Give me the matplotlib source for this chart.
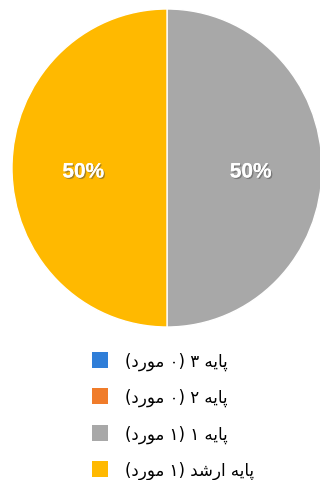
import matplotlib
matplotlib.use('Agg')
import matplotlib.pyplot as plt
import matplotlib.patheffects as pe

labels = ['پایه ۳ (۰ مورد)', 'پایه ۲ (۰ مورد)', 'پایه ۱ (۱ مورد)', 'پایه ارشد (۱ مورد)']
counts = [0, 0, 1, 1]
colors = ['#2F7ED8', '#F07C2A', '#A8A8A8', '#FFB900']

# matplotlib has no arabic shaping, so do it by hand (iso, fin, init, med)
DUAL = {'پ': '\uFB56\uFB57\uFB58\uFB59', 'ی': '\uFBFC\uFBFD\uFBFE\uFBFF',
        'ه': '\uFEE9\uFEEA\uFEEB\uFEEC', 'م': '\uFEE1\uFEE2\uFEE3\uFEE4',
        'ش': '\uFEB5\uFEB6\uFEB7\uFEB8'}
RIGHT = {'ا': '\uFE8D\uFE8E', 'و': '\uFEED\uFEEE', 'ر': '\uFEAD\uFEAE',
         'د': '\uFEA9\uFEAA'}


def shape_word(w):
	out = []
	for i, c in enumerate(w):
		if c not in DUAL and c not in RIGHT:
			out.append(c)
			continue
		prev = i > 0 and w[i-1] in DUAL
		nxt = c in DUAL and i+1 < len(w) and (w[i+1] in DUAL or w[i+1] in RIGHT)
		if c in RIGHT:
			out.append(RIGHT[c][1 if prev else 0])
		else:
			idx = 3 if (prev and nxt) else 1 if prev else 2 if nxt else 0
			out.append(DUAL[c][idx])
	return ''.join(out)


def visual(text):
	mirror = {'(': ')', ')': '('}
	res = []
	for t in reversed(text.split(' ')):
		s = shape_word(t)
		res.append(''.join(mirror.get(c, c) for c in reversed(s)))
	return ' '.join(res)


W, H = 320, 481
fig = plt.figure(figsize=(W/100, H/100), dpi=100)

# reference pie is a touch taller than wide
cx, cy, rx, ry = 167, 169, 155, 159
ax = fig.add_axes([(cx-rx)/W, (H-cy-ry)/H, 2*rx/W, 2*ry/H])


def pct(p):
	return '%d%%' % round(p) if p > 0 else ''


wedges, texts, autotexts = ax.pie(counts, colors=colors, startangle=90, counterclock=False,
	autopct=pct, pctdistance=0.54, radius=1,
	wedgeprops=dict(edgecolor='white', linewidth=1))
for t in autotexts:
	t.set_color('white')
	t.set_fontsize(15)
	t.set_fontweight('bold')
	t.set_fontfamily('Liberation Sans')
	t.set_path_effects([pe.withSimplePatchShadow(offset=(1, -1), alpha=0.5), pe.Normal()])
	x, y = t.get_position()
	t.set_position((x, y - 0.025))
ax.set_aspect('auto')
ax.set_xlim(-1, 1)
ax.set_ylim(-1, 1)
ax.axis('off')

fs = 12
sq = 16 * 72 / 100  # square side in points
leg = fig.legend(wedges, [visual(l) for l in labels], loc='upper left',
	bbox_to_anchor=(92/W, 1 - 353/H), frameon=False, prop={'family': 'DejaVu Sans', 'size': fs},
	handlelength=sq/fs, handleheight=(sq/fs - 0.245)/0.65, handletextpad=1.0,
	labelspacing=1.07, borderpad=0, borderaxespad=0)
for h in leg.legend_handles:
	h.set_edgecolor('none')

fig.savefig('out.png', dpi=100)
